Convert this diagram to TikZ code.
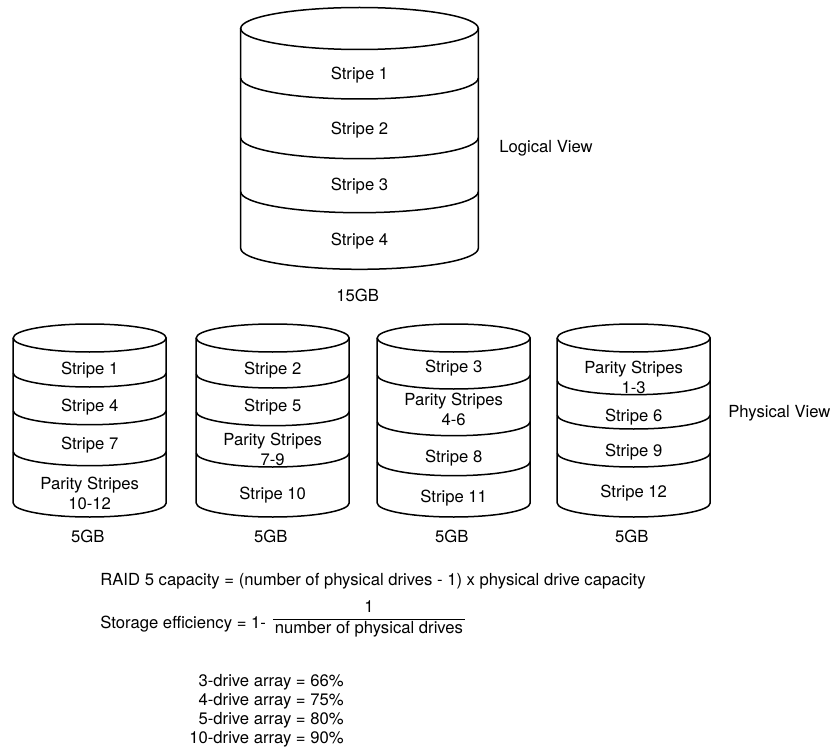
\documentclass[tikz,border=0pt]{standalone}
\usepackage{fontspec}
\setmainfont{TeX Gyre Heros}
\usetikzlibrary{positioning}
\tikzset{
  disk/.style={draw=black, line width=0.9pt},
  stripelab/.style={font=\normalsize, align=center, inner sep=1pt},
  sizelab/.style={font=\normalsize, inner sep=1pt},
  viewlab/.style={font=\normalsize, anchor=west, inner sep=0pt},
  formula/.style={font=\normalsize, anchor=west, inner sep=0pt},
  fracbar/.style={draw=black, line width=0.6pt},
}
% cylinder: #1 centre x, #2 x radius, #3 y radius, #4 top level, #5 bottom level, #6 stripe borders
\newcommand{\diskbody}[6]{%
  \draw[disk] (#1,-#4) ellipse [x radius=#2, y radius=#3];
  \draw[disk] (#1-#2,-#4) -- (#1-#2,-#5)
    arc[start angle=180, end angle=360, x radius=#2, y radius=#3] -- (#1+#2,-#4);
  \foreach \lvl in {#6}
    \draw[disk] (#1-#2,-\lvl) arc[start angle=180, end angle=360, x radius=#2, y radius=#3];
}

\begin{document}
\begin{tikzpicture}[x=0.6pt, y=0.6pt]
  \useasboundingbox (0,0) rectangle (833,-751);

  % --- Logical view (one 15GB volume) ---
  \diskbody{359.5}{118.8}{21}{28.5}{248.3}{78,137.7,191.7}
  \node[stripelab] (ls1) at (359.5,-75)    {Stripe 1};
  \node[stripelab] (ls2) at (359.5,-130)   {Stripe 2};
  \node[stripelab] (ls3) at (359.5,-185.7) {Stripe 3};
  \node[stripelab] (ls4) at (359.5,-240.7) {Stripe 4};
  \node[sizelab]   (lsize) at (357.7,-295) {15GB};
  \node[viewlab]   (logical) at (499,-148) {Logical View};

  % --- Physical view (four 5GB drives) ---
  \diskbody{89.7}{76.5}{14}{338}{503}{373,410.7,451.7}
  \node[stripelab] (d1s1) at (89.7,-370) {Stripe 1};
  \node[stripelab] (d1s2) at (89.7,-407) {Stripe 4};
  \node[stripelab] (d1s3) at (89.7,-445) {Stripe 7};
  \node[stripelab] (d1s4) at (89.7,-493) {Parity Stripes\\10-12};

  \diskbody{272.7}{76.5}{14}{338}{503}{374,411.7,453}
  \node[stripelab] (d2s1) at (272.7,-370) {Stripe 2};
  \node[stripelab] (d2s2) at (272.7,-407) {Stripe 5};
  \node[stripelab] (d2s3) at (272.7,-449) {Parity Stripes\\7-9};
  \node[stripelab] (d2s4) at (272.7,-495) {Stripe 10};

  \diskbody{453.7}{76.5}{14}{338}{503}{375,421.7,461.7}
  \node[stripelab] (d3s1) at (453.7,-368) {Stripe 3};
  \node[stripelab] (d3s2) at (453.7,-409) {Parity Stripes\\4-6};
  \node[stripelab] (d3s3) at (453.7,-458) {Stripe 8};
  \node[stripelab] (d3s4) at (453.7,-498) {Stripe 11};

  \diskbody{633.7}{76.5}{14}{338}{503}{380.7,415,453}
  \node[stripelab] (d4s1) at (633.7,-377)   {Parity Stripes\\1-3};
  \node[stripelab] (d4s2) at (633.7,-417)   {Stripe 6};
  \node[stripelab] (d4s3) at (633.7,-451.7) {Stripe 9};
  \node[stripelab] (d4s4) at (633.7,-493)   {Stripe 12};

  \node[sizelab] (size1) at (87.7,-536)  {5GB};
  \node[sizelab] (size2) at (270.7,-536) {5GB};
  \node[sizelab] (size3) at (451.7,-536) {5GB};
  \node[sizelab] (size4) at (631.7,-536) {5GB};
  \node[viewlab] (physical) at (728,-413) {Physical View};

  % --- Capacity and efficiency ---
  \node[formula] (capacity) at (100,-581)
    {RAID 5 capacity = (number of physical drives - 1) x physical drive capacity};
  \node[formula] (effic) at (100,-624) {Storage efficiency = 1-};
  \node[inner sep=1pt, anchor=north] (den) at (369,-619) {number of physical drives};
  \draw[fracbar] (den.north west) -- (den.north east);
  \node[inner sep=1pt, above=3pt of den.north] (num) {1};

  \node[formula, anchor=east, align=right, font=\fontsize{10}{11.4}\selectfont]
    (arrays) at (344,-710.4)
    {3-drive array = 66\%\\4-drive array = 75\%\\5-drive array = 80\%\\10-drive array = 90\%};
\end{tikzpicture}
\end{document}
